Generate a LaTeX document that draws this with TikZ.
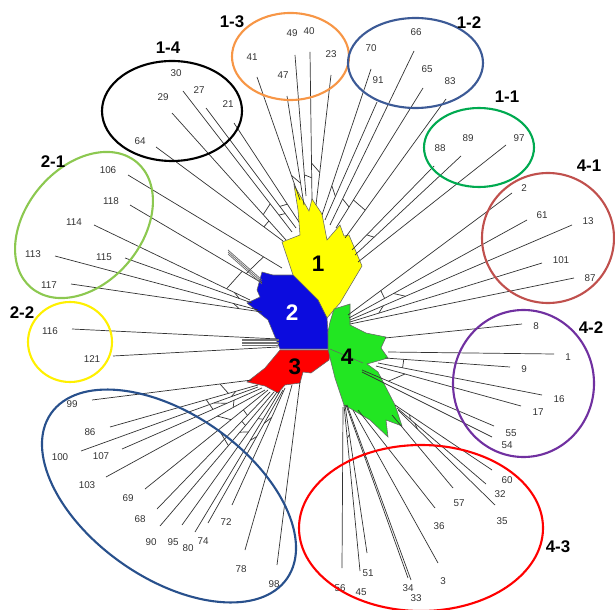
\documentclass[tikz,border=0pt]{standalone}
\usepackage{fontspec}
\setmainfont{Liberation Sans}
\usetikzlibrary{calc}

\definecolor{regyellow}{RGB}{255,255,0}
\definecolor{regblue}{RGB}{12,12,222}
\definecolor{regred}{RGB}{255,0,0}
\definecolor{reggreen}{RGB}{34,230,34}
\definecolor{cOneOne}{RGB}{0,170,80}
\definecolor{cOneTwo}{RGB}{60,90,150}
\definecolor{cOneThree}{RGB}{247,150,70}
\definecolor{cTwoOne}{RGB}{140,200,80}
\definecolor{cTwoTwo}{RGB}{255,240,0}
\definecolor{cThree}{RGB}{40,80,140}
\definecolor{cFourOne}{RGB}{192,80,77}
\definecolor{cFourTwo}{RGB}{112,48,160}
\definecolor{cFourThree}{RGB}{255,0,0}

\tikzset{
  leaf/.style={font=\fontsize{7}{8}\selectfont, text=black!80, inner sep=0pt},
  branch/.style={line width=0.5pt, black!80},
  clade/.style={line width=1.5pt},
  grouplabel/.style={font=\bfseries\fontsize{12}{14}\selectfont, inner sep=0pt},
  regionlabel/.style={font=\bfseries\fontsize{16}{18}\selectfont, inner sep=0pt},
  region/.style={draw=black!60, line width=0.4pt}
}

\begin{document}
\begin{tikzpicture}[x=0.025cm,y=-0.025cm]
  \useasboundingbox (0,0) rectangle (615,609);
  \clip (0,0) rectangle (615,609);
  % coloured core of the network
  \filldraw[region, fill=regyellow] (294,185) -- (309,211) -- (312,199) -- (322,214) -- (327,240) -- (340,225) -- (344,236) -- (349,235) -- (362,266) -- (340,303) -- (327,318) -- (318,300) -- (293,275) -- (282,242) -- (300,235) -- (298,210) -- cycle;
  \filldraw[region, fill=regblue] (293,275) -- (318,300) -- (327,318) -- (328,333) -- (330,349) -- (280,349) -- (268,320) -- (247,303) -- (260,297) -- (257,290) -- (262,272) -- (273,275) -- cycle;
  \filldraw[region, fill=regred] (280,350) -- (331,350) -- (329,360) -- (311,373) -- (303,372) -- (300,383) -- (285,385) -- (278,393) -- (265,386) -- (247,382) -- (265,368) -- cycle;
  \filldraw[region, fill=reggreen] (330,322) -- (334,309) -- (350,304) -- (350,325) -- (366,333) -- (386,337) -- (381,348) -- (388,358) -- (367,364) -- (378,372) -- (395,405) -- (402,426) -- (386,420) -- (388,437) -- (370,420) -- (353,410) -- (344,405) -- (335,378) -- (331,362) -- (328,349) -- (328,332) -- cycle;
  \draw[region] (330,349) -- (363,363);

  % leaves: label / label position / tip / base
  \foreach \lbl/\lx/\ly/\ex/\ey/\bx/\by in {
      30/176/73/183/91/292/232, 29/163/97/172/113/286/240, 27/199/90/206/108/296/228,
      21/228/104/234/123/299/222, 64/140/141/156/147/283/241,
      41/252/57/257/77/300/200, 49/292/33/295/55/306/196, 47/283/75/287/96/304/205,
      40/309/31/310/52/312/200, 23/331/54/331/75/316/205,
      70/371/48/371/69/322/215, 91/378/80/377/102/325/220, 66/416/32/414/51/330/225,
      65/427/69/423/88/336/228, 83/450/81/446/99/345/238,
      88/440/148/434/166/352/250, 89/468/138/461/156/355/255, 97/519/138/506/145/358/262,
      106/108/170/128/175/282/268, 118/111/201/130/205/262/283, 114/74/222/94/225/250/300,
      115/104/257/125/258/252/303, 113/33/254/55/256/258/310, 117/49/285/71/284/262/312,
      116/50/331/72/329/278/339, 121/92/359/113/356/278/347,
      99/72/404/92/400/252/380, 86/90/432/110/427/258/385, 100/60/457/81/451/258/387,
      107/101/456/122/449/262/388, 103/87/485/106/477/265/390, 69/128/498/145/489/268/390,
      68/140/519/157/509/270/392, 90/151/542/160/526/274/392, 95/173/542/182/525/277/392,
      80/188/548/195/532/280/391, 74/203/541/208/523/283/390, 72/226/522/232/505/285/388,
      78/241/569/245/550/292/385, 98/274/584/277/565/300/382,
      2/524/188/512/193/348/315, 61/542/215/527/220/349/318, 13/588/221/572/225/350/320,
      101/561/260/542/263/350/322, 87/590/278/574/278/350/324,
      8/536/326/522/324/385/338, 1/568/357/554/354/388/352, 9/524/369/510/367/385/358,
      16/559/399/542/395/378/363, 17/538/412/521/406/376/366, 55/511/433/494/426/362/370,
      54/507/445/492/437/362/372,
      60/507/480/492/470/395/405, 32/500/494/486/484/397/408, 35/502/521/495/505/398/410,
      57/459/503/453/488/392/415, 36/439/526/435/508/358/410, 3/443/581/438/563/353/410,
      34/408/588/408/578/346/405, 33/416/598/411/580/347/405, 45/361/592/360/571/344/405,
      51/368/573/367/553/345/405, 56/340/588/342/568/343/407} {
    \node[leaf] (l\lbl) at (\lx,\ly) {\lbl};
    \coordinate (e\lbl) at (\ex,\ey);
    \coordinate (b\lbl) at (\bx,\by);
    \draw[branch] (b\lbl) -- (e\lbl);
  }

  % reticulation between neighbouring splits
  \foreach \a/\b/\t in {64/29/0.15, 29/30/0.2, 30/27/0.12, 27/21/0.18, 41/47/0.2, 49/40/0.15,
      40/23/0.25, 70/91/0.2, 66/65/0.15, 65/83/0.2, 88/89/0.18, 106/118/0.12, 118/114/0.15,
      114/115/0.1, 113/117/0.12, 99/86/0.2, 86/100/0.15, 100/107/0.25, 107/103/0.2,
      103/69/0.3, 69/68/0.2, 68/90/0.25, 90/95/0.3, 95/80/0.2, 80/74/0.35, 74/72/0.25,
      86/107/0.35, 69/90/0.4, 2/61/0.2, 61/13/0.25, 13/101/0.15, 9/16/0.15, 17/55/0.2,
      60/32/0.15, 32/35/0.2, 34/33/0.3, 45/51/0.2} {
    \draw[branch] ($(b\a)!\t!(e\a)$) -- ($(b\b)!\t!(e\b)$);
  }
  \foreach \y in {339,340.6,...,347} {
    \draw[branch, black!55] (242,\y) -- (279,\y);
  }
  \foreach \d in {0,2,4} {
    \draw[branch, black!60] (228,{250+\d}) -- (262,{280+\d});
  }

  % region numbers
  \node[regionlabel] (r1) at (318,264) {1};
  \node[regionlabel, text=white] (r2) at (292,313) {2};
  \node[regionlabel] (r3) at (295,367) {3};
  \node[regionlabel] (r4) at (347,357) {4};

  % clusters
  \draw[clade, black] (172,111) ellipse [x radius=70, y radius=50];
  \draw[clade, cOneThree] (290.5,56.5) ellipse [x radius=58.5, y radius=43.5];
  \draw[clade, cOneTwo] (415.5,63) ellipse [x radius=67.5, y radius=45];
  \draw[clade, cOneOne] (479,147.5) ellipse [x radius=55, y radius=39.5];
  \draw[clade, cTwoOne, rotate around={50:(84,225)}] (84,225) ellipse [x radius=82, y radius=58];
  \draw[clade, cTwoTwo] (70,342) ellipse [x radius=42, y radius=40];
  \draw[clade, cThree, rotate around={-35:(169,496)}] (169,496) ellipse [x radius=144, y radius=82];
  \draw[clade, cFourOne] (548,238) ellipse [x radius=66, y radius=65];
  \draw[clade, cFourTwo] (523.5,383.5) ellipse [x radius=70.5, y radius=73.5];
  \draw[clade, cFourThree] (421,528) ellipse [x radius=122, y radius=83];

  \node[grouplabel] (g14) at (168,48) {1-4};
  \node[grouplabel] (g13) at (232,22) {1-3};
  \node[grouplabel] (g12) at (469,23) {1-2};
  \node[grouplabel] (g11) at (507,97) {1-1};
  \node[grouplabel] (g21) at (53,162) {2-1};
  \node[grouplabel] (g22) at (22,313) {2-2};
  \node[grouplabel] (g41) at (589,166) {4-1};
  \node[grouplabel] (g42) at (591,328) {4-2};
  \node[grouplabel] (g43) at (558,547) {4-3};
\end{tikzpicture}
\end{document}
